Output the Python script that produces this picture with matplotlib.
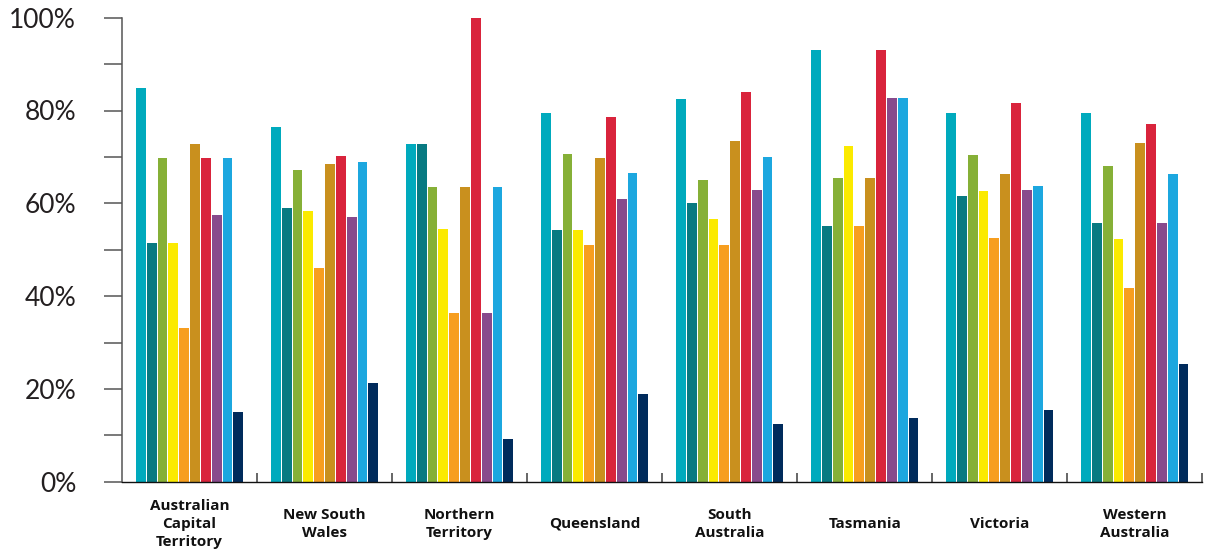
import matplotlib
matplotlib.use("Agg")
import matplotlib.pyplot as plt
from matplotlib.transforms import blended_transform_factory
import numpy as np

# States / territories and the ten response series (percent)
states = [
    "Australian\nCapital\nTerritory",
    "New South\nWales",
    "Northern\nTerritory",
    "Queensland",
    "South\nAustralia",
    "Tasmania",
    "Victoria",
    "Western\nAustralia",
]

s1 = [84.9, 76.5, 72.7, 79.4, 82.5, 93.1, 79.4, 79.4]
s2 = [51.4, 59.0, 72.7, 54.2, 60.1, 55.2, 61.6, 55.7]
s3 = [69.7, 67.2, 63.6, 70.7, 65.1, 65.5, 70.4, 68.1]
s4 = [51.4, 58.4, 54.5, 54.2, 56.7, 72.4, 62.6, 52.3]
s5 = [33.2, 46.1, 36.4, 51.1, 51.1, 55.2, 52.6, 41.8]
s6 = [72.8, 68.5, 63.6, 69.7, 73.5, 65.5, 66.3, 73.0]
s7 = [69.7, 70.2, 100.0, 78.6, 84.0, 93.1, 81.6, 77.1]
s8 = [57.5, 57.0, 36.4, 61.0, 62.9, 82.8, 62.9, 55.7]
s9 = [69.7, 68.9, 63.6, 66.6, 70.0, 82.8, 63.8, 66.3]
s10 = [15.1, 21.3, 9.1, 19.0, 12.5, 13.8, 15.5, 25.4]

series = [s1, s2, s3, s4, s5, s6, s7, s8, s9, s10]
colors = ["#00AABD", "#087A82", "#86B037", "#FBEA00", "#F79E1F",
          "#C9901E", "#D9243C", "#884A8C", "#1CA7DF", "#002B5C"]

yticks = [0, 20, 40, 60, 80, 100]
ytick_labels = ["0%", "20%", "40%", "60%", "80%", "100%"]

W, H = 1214, 551
fig = plt.figure(figsize=(W / 100, H / 100), dpi=100)
ax = fig.add_axes([122 / W, 1 - 481.7 / H, (1202.3 - 122) / W, (481.7 - 17.7) / H])

x = np.arange(len(states))
step = 0.0802
for j, (vals, c) in enumerate(zip(series, colors)):
    ax.bar(x + (j - 4.5) * step, vals, width=step - 0.0075, color=c,
           linewidth=0, zorder=2)

ax.set_xlim(-0.5, len(states) - 0.5)
ax.set_ylim(0, 100)

# y axis: labelled major ticks every 20%, unlabelled minor ticks between
ax.set_yticks(yticks)
ax.set_yticklabels(ytick_labels, fontsize=19, fontfamily="Lato",
                   fontweight="normal", color="#231F20")
ax.set_yticks([10, 30, 50, 70, 90], minor=True)
ax.tick_params(axis="y", which="both", direction="out", length=13,
               width=1.1, color="#555555", pad=20)

# x axis: short inward separators between groups
ax.set_xticks([])
ax.set_xticks(np.arange(0.5, len(states), 1.0), minor=True)
ax.tick_params(axis="x", which="minor", direction="in", length=6.5,
               width=1.4, color="#666666")

for side in ("top", "right"):
    ax.spines[side].set_visible(False)
ax.spines["left"].set_color("#555555")
ax.spines["left"].set_linewidth(1.1)
ax.spines["bottom"].set_color("#111111")
ax.spines["bottom"].set_linewidth(1.0)

trans = blended_transform_factory(ax.transData, ax.transAxes)
for xi, name in zip(x, states):
    ax.text(xi, -0.091, name, transform=trans, ha="center", va="center",
            fontsize=11, fontweight="bold", fontfamily="Open Sans",
            color="#111111", linespacing=1.35)

fig.savefig("out.png", dpi=100)
